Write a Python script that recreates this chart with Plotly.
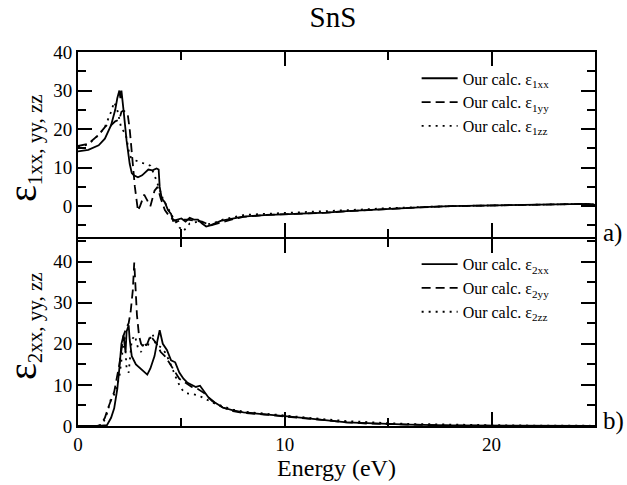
import plotly.graph_objects as go

# ---------------- data ----------------
e1xx_E = [0, 0.5, 1.0, 1.3, 1.6, 1.8, 1.9, 2.0, 2.05, 2.1, 2.2, 2.35, 2.5, 2.6, 2.7, 2.9, 3.1, 3.3, 3.4,
          3.6, 3.8, 3.9, 3.95, 4.05, 4.2, 4.35, 4.5, 4.6, 4.8, 5.0, 5.2, 5.4, 5.6, 5.8, 6.0, 6.2, 6.4,
          6.6, 6.9, 7.2, 7.6, 8.0, 9, 10, 11, 12, 13, 14, 15, 16, 17, 18, 19, 20, 21, 22, 23, 24, 24.6, 25]
e1xx_V = [14.2, 14.6, 15.8, 17.5, 21, 25, 28, 30, 28, 30, 25, 17, 11, 8.6, 8, 7.5, 8, 9, 9.5,
          9.3, 9.8, 9.5, 5, 2, 1, -1, -2, -3.8, -3.5, -3.2, -4, -3, -3.5, -3.5, -4.5, -5.3, -5,
          -4.5, -3.8, -3.5, -3, -2.7, -2.3, -2.1, -1.9, -1.7, -1.3, -1.0, -0.7, -0.4, -0.2, 0, 0.1,
          0.2, 0.3, 0.4, 0.5, 0.6, 0.6, 0.3]

e1yy_E = [0, 0.5, 1.0, 1.3, 1.5, 1.6, 1.8, 2.0, 2.1, 2.2, 2.4, 2.5, 2.6, 2.75, 2.9, 3.0, 3.2, 3.4, 3.5,
          3.7, 3.85, 4.0, 4.2, 4.4, 4.6, 4.8, 5.0, 5.3, 5.6, 6.0, 6.4, 6.8, 7.2, 7.6, 8, 9, 10, 11, 12,
          13, 14, 15, 16, 17, 18, 19, 20, 21, 22, 23, 24, 24.6, 25]
e1yy_V = [15.6, 16.2, 18.5, 20.5, 21.5, 21, 22, 22.5, 24.5, 24.8, 24, 20, 14, 5, -1.2, 0, 3, 1, 0,
          4, 5, 2, -1, -2.5, -3.5, -4, -3.5, -3.5, -3.8, -4, -5, -4.5, -3.8, -3.2, -2.8, -2.3, -2.1,
          -1.9, -1.7, -1.3, -1.0, -0.7, -0.4, -0.2, 0, 0.1, 0.2, 0.3, 0.4, 0.5, 0.6, 0.6, 0.3]

e1zz_E = [0, 0.5, 1.0, 1.3, 1.6, 1.75, 1.9, 2.0, 2.1, 2.3, 2.5, 2.7, 3.0, 3.3, 3.5, 3.7, 3.9, 4.1,
          4.3, 4.6, 4.9, 5.1, 5.4, 5.8, 6.2, 6.6, 7.0, 7.5, 8, 9, 10, 11, 12, 13, 14, 15, 16, 17, 18,
          19, 20, 21, 22, 23, 24, 24.6, 25]
e1zz_V = [15.4, 16, 18.5, 20.5, 24.5, 27, 25, 22, 20, 19, 13, 12, 11.5, 11, 10.5, 8, 5, 2,
          0, -3, -5.5, -6.5, -4.5, -4, -4.8, -4.3, -3.5, -2.8, -2.3, -2.0, -1.8, -1.6, -1.4, -1.1,
          -0.8, -0.5, -0.3, -0.1, 0, 0.1, 0.2, 0.3, 0.4, 0.5, 0.6, 0.6, 0.4]

e2xx_E = [0, 1.0, 1.4, 1.6, 1.75, 1.9, 2.0, 2.1, 2.2, 2.3, 2.35, 2.45, 2.5, 2.6, 2.8, 3.0, 3.2, 3.35,
          3.5, 3.7, 3.85, 3.95, 4.1, 4.3, 4.5, 4.7, 4.9, 5.1, 5.3, 5.5, 5.7, 5.9, 6.1, 6.3, 6.6, 7.0,
          7.5, 8, 8.5, 9, 10, 11, 12, 13, 14, 15, 16, 18, 20, 22, 25]
e2xx_V = [0, 0, 0.2, 2, 4.3, 9, 14, 20, 22, 18, 23, 24.5, 21, 17, 15, 14, 13, 12.5,
          14, 17, 21, 23.3, 20, 18.5, 16, 15.5, 13, 11.5, 10.5, 10, 9.5, 9.8, 8.5, 7, 5.8, 4.5,
          3.8, 3.3, 3.1, 2.9, 2.4, 1.9, 1.4, 0.9, 0.7, 0.5, 0.35, 0.15, 0.1, 0.05, 0.03]

e2yy_E = [0, 0.9, 1.1, 1.3, 1.5, 1.75, 2.0, 2.2, 2.35, 2.45, 2.55, 2.65, 2.72, 2.78, 2.85, 2.95, 3.05,
          3.2, 3.35, 3.5, 3.65, 3.8, 4.0, 4.2, 4.4, 4.6, 4.9, 5.2, 5.5, 5.8, 6.1, 6.5, 7, 7.5, 8, 9,
          10, 11, 12, 13, 14, 15, 16, 18, 20, 25]
e2yy_V = [0, 0, 0.3, 2, 5, 8.3, 15, 22, 24, 25, 28, 33, 39.8, 33, 27, 22, 20,
          19, 20, 22, 21, 20, 18, 17, 15.5, 14, 11.5, 10.5, 9.5, 9, 8, 6, 4.5, 3.6, 3.2, 2.8,
          2.3, 1.8, 1.3, 0.9, 0.6, 0.45, 0.3, 0.1, 0.05, 0]

e2zz_E = [0, 1.0, 1.2, 1.4, 1.6, 1.8, 2.0, 2.15, 2.25, 2.35, 2.45, 2.6, 2.75, 2.9, 3.05, 3.2, 3.35,
          3.5, 3.6, 3.75, 3.9, 4.05, 4.2, 4.4, 4.6, 4.8, 5.0, 5.2, 5.5, 5.8, 6.2, 6.6, 7.0, 7.5, 8, 9,
          10, 11, 12, 13, 14, 15, 16, 18, 20, 22, 25]
e2zz_V = [0, 0, 0.5, 3, 6.7, 8, 12, 18, 22, 14, 13, 21, 22, 19, 18, 20.5, 19,
          21.5, 22.5, 20, 19.5, 19, 18, 16, 13.5, 11, 9, 8, 7.8, 7.5, 6.5, 5.5, 4.8, 4, 3.5, 3.0,
          2.5, 2.1, 1.6, 1.2, 0.9, 0.7, 0.5, 0.3, 0.2, 0.1, 0.05]

x_ticks = [0, 10, 20]
y_ticks = [0, 10, 20, 30, 40]

FONT = "Liberation Serif, Times New Roman, serif"
DASH = "9px,5px"
DOT = "2px,5px"
LW = 2

fig = go.Figure()

def add(x, y, name, dash, xax, yax, leg):
    fig.add_trace(go.Scatter(x=x, y=y, mode="lines", name=name, xaxis=xax, yaxis=yax,
                             line=dict(color="black", width=1.8, dash=dash), legend=leg))

add(e1xx_E, e1xx_V, "Our calc. ε<sub>1xx</sub>", "solid", "x2", "y2", "legend")
add(e1yy_E, e1yy_V, "Our calc. ε<sub>1yy</sub>", DASH, "x2", "y2", "legend")
add(e1zz_E, e1zz_V, "Our calc. ε<sub>1zz</sub>", DOT, "x2", "y2", "legend")
add(e2xx_E, e2xx_V, "Our calc. ε<sub>2xx</sub>", "solid", "x", "y", "legend2")
add(e2yy_E, e2yy_V, "Our calc. ε<sub>2yy</sub>", DASH, "x", "y", "legend2")
add(e2zz_E, e2zz_V, "Our calc. ε<sub>2zz</sub>", DOT, "x", "y", "legend2")

axis_common = dict(showline=True, linecolor="black", linewidth=LW, mirror="ticks",
                   ticks="inside", ticklen=14, tickwidth=1.5, tickcolor="black",
                   showgrid=False, zeroline=False, automargin=False,
                   tickfont=dict(family=FONT, size=19, color="black"))
minor = dict(dtick=5, ticks="inside", ticklen=8, tickwidth=1.5, tickcolor="black", showgrid=False)

plot_h = 485 - 52 - 59
split = 0.5 + LW / plot_h  # lets the two divider lines coincide

ytitle_font = dict(family=FONT, size=30, color="black")

fig.update_layout(
    width=627, height=485,
    margin=dict(l=78, r=32, t=52, b=59),
    paper_bgcolor="white", plot_bgcolor="white",
    font=dict(family=FONT, color="black"),
    title=dict(text="SnS", x=0.531, xanchor="center", y=0.965, yanchor="middle",
               font=dict(family=FONT, size=29, color="black")),
    xaxis=dict(range=[0, 25], tickvals=x_ticks, minor=minor, anchor="y",
               title=dict(text="Energy (eV)", font=dict(family=FONT, size=24), standoff=0),
               **axis_common),
    xaxis2=dict(range=[0, 25], tickvals=x_ticks, minor=minor, anchor="y2",
                showticklabels=False, **axis_common),
    yaxis=dict(domain=[0, 0.5], range=[0, 45.5], tickvals=y_ticks, minor=minor, anchor="x",
               **axis_common),
    yaxis2=dict(domain=[split, 1], range=[-8, 40], tickvals=y_ticks, minor=minor, anchor="x2",
                **axis_common),
    legend=dict(x=0.655, y=0.975, xanchor="left", yanchor="top", bgcolor="rgba(0,0,0,0)",
                font=dict(family=FONT, size=16), itemwidth=36, tracegroupgap=0),
    legend2=dict(x=0.655, y=0.478, xanchor="left", yanchor="top", bgcolor="rgba(0,0,0,0)",
                 font=dict(family=FONT, size=16), itemwidth=36, tracegroupgap=0),
    annotations=[
        dict(text='<span style="font-size:40px">ε</span><sub>1xx, yy, zz</sub>',
             xref="paper", yref="paper", x=0, y=(426 - 148) / plot_h, xanchor="center",
             yanchor="middle", xshift=-55, textangle=-90, showarrow=False, font=ytitle_font),
        dict(text='<span style="font-size:40px">ε</span><sub>2xx, yy, zz</sub>',
             xref="paper", yref="paper", x=0, y=(426 - 326) / plot_h, xanchor="center",
             yanchor="middle", xshift=-55, textangle=-90, showarrow=False, font=ytitle_font),
        dict(text="a)", xref="paper", yref="paper", x=1.0, y=0.515, xanchor="left",
             yanchor="middle", xshift=6, showarrow=False, font=dict(family=FONT, size=25)),
        dict(text="b)", xref="paper", yref="paper", x=1.0, y=0.014, xanchor="left",
             yanchor="middle", xshift=6, showarrow=False, font=dict(family=FONT, size=25)),
    ],
)

fig.write_html("out.html")
